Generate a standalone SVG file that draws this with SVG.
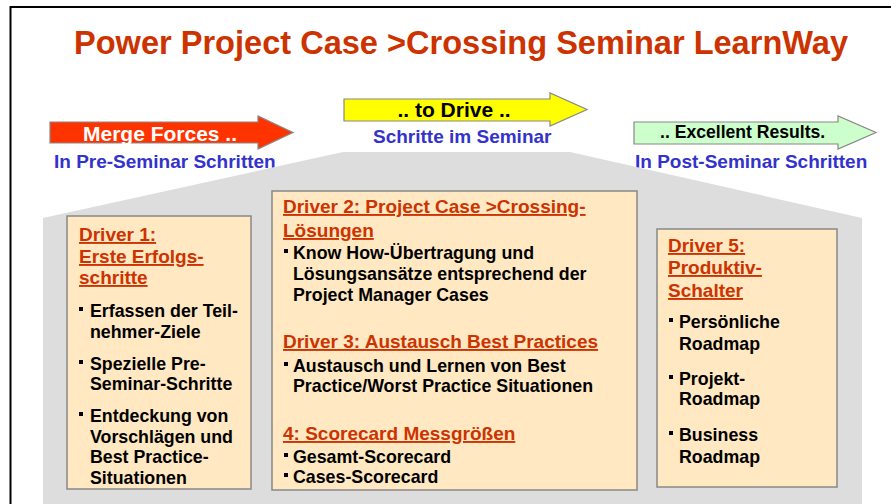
<svg xmlns="http://www.w3.org/2000/svg" width="891" height="504" viewBox="0 0 891 504">
<style>
text{font-family:"Liberation Sans",Arial,sans-serif;font-weight:bold}
.title{font-size:32.5px;fill:#cc3300}
.sub{font-size:19px;fill:#3333cc}
.hd{font-size:19px;fill:#cc3300;text-decoration:underline}
.bd{font-size:17.8px;fill:#000}
.box{fill:#ffe8c2;stroke:#888;stroke-width:1.5}
.bul{fill:#000}
.arrow{stroke:#888;stroke-width:1.2}
</style>
<rect width="891" height="504" fill="#fff"/>
<path d="M10.5,504 V7 H891" fill="none" stroke="#000" stroke-width="2"/>
<text class="title" x="74" y="54" textLength="774" lengthAdjust="spacingAndGlyphs">Power Project Case &gt;Crossing Seminar LearnWay</text>

<g id="arrow-merge">
<polygon class="arrow" fill="#ff3300" points="50,122 258,122 258,116 293,132.5 258,149 258,143 50,143"/>
<text x="160" y="141" text-anchor="middle" font-size="21" fill="#fff">Merge Forces ..</text>
<text class="sub" x="54" y="168">In Pre-Seminar Schritten</text>
</g>
<g id="arrow-drive">
<polygon class="arrow" fill="#ffff00" points="344,99 550,99 550,93 587,109.5 550,126 550,121 344,121"/>
<text x="454" y="117" text-anchor="middle" font-size="21" fill="#000">.. to Drive ..</text>
<text class="sub" x="373" y="143">Schritte im Seminar</text>
</g>
<g id="arrow-results">
<polygon class="arrow" fill="#ccffcc" stroke="#aaa" points="634,122 838,122 838,116 876,132.5 838,149 838,144 634,144"/>
<text x="660" y="138" font-size="17.6" fill="#000">.. Excellent Results.</text>
<text class="sub" x="635" y="168">In Post-Seminar Schritten</text>
</g>

<polygon id="house" points="43,218 343,152 570,152 862,218 862,504 43,504" fill="#dddddd"/>

<g id="driver1">
<rect class="box" x="67" y="216" width="184" height="273"/>
<text class="hd" x="79" y="241">Driver 1:</text>
<text class="hd" x="79" y="263">Erste Erfolgs-</text>
<text class="hd" x="79" y="284">schritte</text>
<rect class="bul" x="79" y="307" width="4" height="4"/>
<text class="bd" x="90" y="317">Erfassen der Teil-</text>
<text class="bd" x="90" y="338">nehmer-Ziele</text>
<rect class="bul" x="79" y="360" width="4" height="4"/>
<text class="bd" x="90" y="370">Spezielle Pre-</text>
<text class="bd" x="90" y="390">Seminar-Schritte</text>
<rect class="bul" x="79" y="412" width="4" height="4"/>
<text class="bd" x="90" y="422">Entdeckung von</text>
<text class="bd" x="90" y="443">Vorschlägen und</text>
<text class="bd" x="90" y="463">Best Practice-</text>
<text class="bd" x="90" y="484">Situationen</text>
</g>

<g id="driver2-4">
<rect class="box" x="272" y="191" width="365" height="299"/>
<text class="hd" x="283" y="213">Driver 2: Project Case &gt;Crossing-</text>
<text class="hd" x="283" y="237">Lösungen</text>
<rect class="bul" x="284" y="249" width="4" height="4"/>
<text class="bd" x="293" y="259">Know How-Übertragung und</text>
<text class="bd" x="293" y="280">Lösungsansätze entsprechend der</text>
<text class="bd" x="293" y="301">Project Manager Cases</text>
<text class="hd" x="283" y="348">Driver 3: Austausch Best Practices</text>
<rect class="bul" x="284" y="362" width="4" height="4"/>
<text class="bd" x="293" y="372">Austausch und Lernen von Best</text>
<text class="bd" x="293" y="392">Practice/Worst Practice Situationen</text>
<text class="hd" x="283" y="440">4: Scorecard Messgrößen</text>
<rect class="bul" x="284" y="453" width="4" height="4"/>
<text class="bd" x="293" y="463">Gesamt-Scorecard</text>
<rect class="bul" x="284" y="473" width="4" height="4"/>
<text class="bd" x="293" y="483">Cases-Scorecard</text>
</g>

<g id="driver5">
<rect class="box" x="657" y="229" width="180" height="258"/>
<text class="hd" x="668" y="252">Driver 5:</text>
<text class="hd" x="668" y="274">Produktiv-</text>
<text class="hd" x="668" y="297">Schalter</text>
<rect class="bul" x="669" y="318" width="4" height="4"/>
<text class="bd" x="679" y="328">Persönliche</text>
<text class="bd" x="679" y="350">Roadmap</text>
<rect class="bul" x="669" y="375" width="4" height="4"/>
<text class="bd" x="679" y="385">Projekt-</text>
<text class="bd" x="679" y="405">Roadmap</text>
<rect class="bul" x="669" y="431" width="4" height="4"/>
<text class="bd" x="679" y="441">Business</text>
<text class="bd" x="679" y="463">Roadmap</text>
</g>
</svg>
